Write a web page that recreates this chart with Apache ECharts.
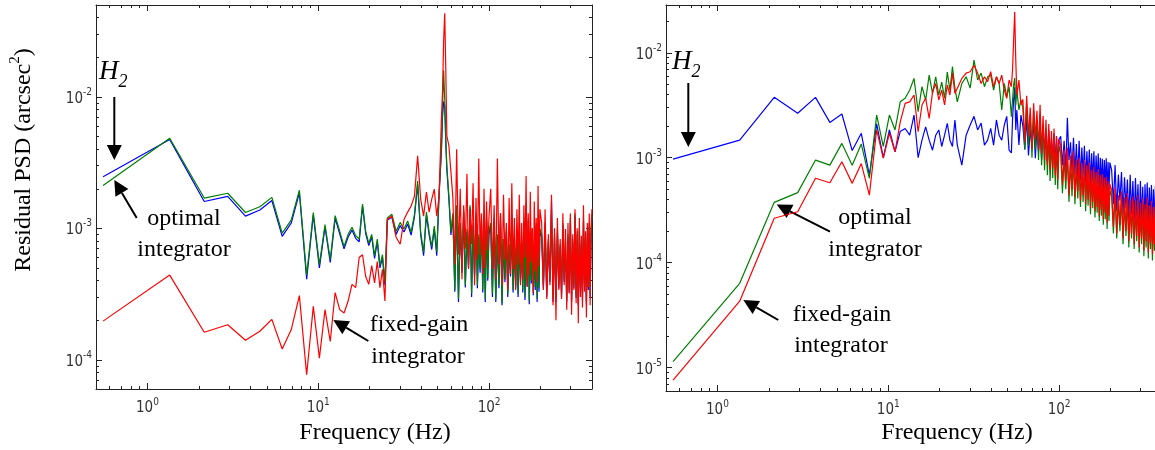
<!DOCTYPE html>
<html>
<head>
<meta charset="utf-8">
<script src="https://cdn.jsdelivr.net/npm/echarts@6/dist/echarts.min.js"></script>
<style>
html,body{margin:0;padding:0;background:#fff;overflow:hidden;}
#chart{width:1155px;height:450px;}
</style>
</head>
<body>
<div id="chart"></div>
<script>
// Frequency grid (Hz), shared by both panels
const freq = [0.55,1.35,2.15,2.95,3.75,4.55,5.35,6.15,6.95,7.75,
 8.55,9.35,10.15,10.95,11.75,12.55,13.35,14.15,14.95,15.75,
 16.55,17.35,18.15,18.95,19.75,20.55,21.35,22.15,22.95,23.75,
 24.55,25.35,
 26.95,28.55,30.15,31.75,33.35,34.95,36.55,38.15,
 39.75,41.35,42.95,44.55,46.15,47.75,49.35,50.95,52.55,53.35,
 54.15,54.95,55.75,56.55,58.15,59.75,
 61.35,62.95,64.55,66.15,67.75,69.35,70.95,72.55,74.15,75.75,
 77.35,78.95,80.55,82.15,83.75,85.35,86.95,88.55,90.15,91.75,
 93.35,94.95,96.55,98.15,99.75,
 102.15,104.55,106.95,109.35,111.75,114.15,116.55,118.95,121.35,123.75,
 126.15,128.55,130.95,133.35,135.75,138.15,140.55,142.95,145.35,147.75,
 150.15,152.55,154.95,157.35,159.75,162.15,164.55,166.95,169.35,171.75,
 174.15,176.55,178.95,181.35,183.75,186.15,188.55,190.95,193.35,195.75,
 198.15,
 202.95,207.75,212.55,217.35,222.15,226.95,231.75,236.55,241.35,246.15,
 250.95,255.75,260.55,265.35,270.15,274.95,279.75,284.55,289.35,294.15,
 298.95,303.75,308.55,313.35,318.15,322.95,327.75,332.55,337.35,342.15,
 346.95,351.75,356.55,361.35,366.15,370.95,375.75,380.55,385.35,390.15,
 394.95,399.75];

// Left panel: residual PSD (arcsec^2)
const blueL = [2.47e-3,4.75e-3,1.60e-3,1.75e-3,1.24e-3,1.38e-3,1.63e-3,8.7e-4,1.10e-3,1.86e-3,4.1e-4,1.26e-3,5.0e-4,1.02e-3,5.5e-4,1.19e-3,9.1e-4,7.0e-4,8.6e-4,9.7e-4,8.4e-4,7.9e-4,1.47e-3,9.1e-4,7.4e-4,8.6e-4,5.9e-4,7.9e-4,5.0e-4,6.0e-4,3.7e-4,1.15e-3,
 1.22e-3,9.0e-4,1.05e-3,9.4e-4,1.08e-3,8.9e-4,1.22e-3,2.15e-3,8.9e-4,6.2e-4,1.26e-3,8.9e-4,6.9e-4,9.9e-4,6.2e-4,1.8e-3,3.8e-3,7.0e-3,9.2e-3,8.5e-3,4.5e-3,2.8e-3,1.66e-3,8.9e-4,
 1.25e-3,3.3e-4,1.45e-3,2.75e-4,1.05e-3,4.6e-4,1.33e-3,3.55e-4,9.4e-4,5.0e-4,1.45e-3,3.0e-4,1.05e-3,4.3e-4,1.24e-3,3.5e-4,8.6e-4,4.6e-4,1.14e-3,3.25e-4,9.5e-4,2.75e-4,1.14e-3,4.0e-4,9.0e-4,
 1.05e-3,3.0e-4,1.14e-3,2.75e-4,8.6e-4,3.5e-4,1.24e-3,2.6e-4,7.9e-4,3.9e-4,9.4e-4,3.0e-4,7.2e-4,4.3e-4,1.05e-3,3.25e-4,7.9e-4,3.5e-4,9.4e-4,3.0e-4,8.6e-4,3.9e-4,7.9e-4,3.25e-4,1.05e-3,2.85e-4,9.0e-4,3.6e-4,1.14e-3,2.65e-4,8.2e-4,3.8e-4,9.5e-4,3.1e-4,7.5e-4,3.4e-4,1.05e-3,2.75e-4,8.7e-4,3.3e-4,9.5e-4,
 8.6e-4,3.5e-4,1.05e-3,3.0e-4,7.9e-4,3.9e-4,1.6e-3,2.75e-4,8.6e-4,2.75e-4,9.4e-4,3.5e-4,7.2e-4,3.0e-4,1.05e-3,3.9e-4,7.9e-4,2.75e-4,8.6e-4,3.25e-4,1.14e-3,2.75e-4,7.9e-4,3.5e-4,1.24e-3,2.95e-4,9.0e-4,2.6e-4,9.5e-4,3.3e-4,7.6e-4,2.85e-4,1.14e-3,3.7e-4,8.3e-4,2.65e-4,9.2e-4,3.4e-4,1.05e-3,3.0e-4,8.6e-4,1.2e-3];
const greenL = [2.12e-3,4.85e-3,1.70e-3,1.85e-3,1.32e-3,1.46e-3,1.72e-3,9.2e-4,1.16e-3,1.95e-3,4.4e-4,1.32e-3,5.3e-4,1.07e-3,5.8e-4,1.25e-3,9.5e-4,7.3e-4,9.0e-4,1.02e-3,8.8e-4,8.3e-4,1.53e-3,9.5e-4,7.7e-4,9.0e-4,6.2e-4,8.3e-4,5.2e-4,6.3e-4,3.9e-4,1.2e-3,
 1.28e-3,9.5e-4,1.11e-3,9.9e-4,1.14e-3,9.35e-4,1.28e-3,2.29e-3,9.35e-4,6.6e-4,1.33e-3,9.35e-4,7.3e-4,1.04e-3,6.6e-4,1.89e-3,4.03e-3,8.1e-3,1.59e-2,9.7e-3,4.8e-3,2.98e-3,1.76e-3,9.35e-4,
 1.3e-3,3.4e-4,1.5e-3,2.9e-4,1.1e-3,4.9e-4,1.4e-3,3.7e-4,9.9e-4,5.3e-4,1.5e-3,3.2e-4,1.1e-3,4.5e-4,1.3e-3,3.7e-4,9.0e-4,4.9e-4,1.2e-3,3.4e-4,1.0e-3,2.9e-4,1.2e-3,4.2e-4,9.5e-4,
 1.1e-3,3.2e-4,1.2e-3,2.9e-4,9.0e-4,3.7e-4,1.3e-3,2.7e-4,8.3e-4,4.1e-4,9.9e-4,3.2e-4,7.6e-4,4.5e-4,1.1e-3,3.4e-4,8.3e-4,3.7e-4,9.9e-4,3.2e-4,9.0e-4,4.1e-4,8.3e-4,3.4e-4,1.1e-3,3.0e-4,9.4e-4,3.8e-4,1.2e-3,2.8e-4,8.6e-4,4.0e-4,1.0e-3,3.3e-4,7.9e-4,3.6e-4,1.1e-3,2.9e-4,9.2e-4,3.5e-4,1.0e-3,
 9.0e-4,3.7e-4,1.1e-3,3.2e-4,8.3e-4,4.1e-4,1.4e-3,2.9e-4,9.0e-4,2.9e-4,9.9e-4,3.7e-4,7.6e-4,3.2e-4,1.1e-3,4.1e-4,8.3e-4,2.9e-4,9.0e-4,3.4e-4,1.2e-3,2.9e-4,8.3e-4,3.7e-4,1.3e-3,3.1e-4,9.5e-4,2.7e-4,1.0e-3,3.5e-4,8.0e-4,3.0e-4,1.2e-3,3.9e-4,8.7e-4,2.8e-4,9.7e-4,3.6e-4,1.1e-3,3.2e-4,9.0e-4,1.25e-3];
const redL = [1.97e-4,4.41e-4,1.62e-4,1.85e-4,1.41e-4,1.65e-4,2.03e-4,1.21e-4,1.70e-4,3.08e-4,7.7e-5,2.55e-4,1.03e-4,2.41e-4,1.38e-4,3.25e-4,2.41e-4,2.27e-4,2.8e-4,3.75e-4,3.54e-4,6.0e-4,6.3e-4,4.3e-4,3.75e-4,5.2e-4,3.85e-4,5.6e-4,3.54e-4,4.87e-4,2.8e-4,1.17e-3,
 1.24e-3,8.55e-4,7.57e-4,1.17e-3,1.33e-3,1.48e-3,1.76e-3,3.56e-3,1.67e-3,1.24e-3,1.89e-3,1.33e-3,1.67e-3,1.99e-3,1.24e-3,1.76e-3,6.8e-3,1.10e-2,2.65e-2,4.33e-2,1.64e-2,5.06e-3,4.25e-3,2.69e-3,
 1.7e-3,5.3e-4,4.0e-3,6.3e-4,2.0e-3,4.1e-4,1.5e-3,7.0e-4,2.6e-3,4.9e-4,1.4e-3,7.6e-4,2.2e-3,3.7e-4,1.7e-3,5.8e-4,3.4e-3,6.3e-4,1.3e-3,4.5e-4,2.0e-3,5.0e-4,1.6e-3,6.8e-4,1.2e-3,
 2.0e-3,4.9e-4,1.5e-3,4.1e-4,3.4e-3,5.3e-4,1.3e-3,3.7e-4,1.8e-3,5.8e-4,1.1e-3,3.4e-4,1.7e-3,4.5e-4,2.2e-3,4.9e-4,1.2e-3,3.4e-4,1.4e-3,5.3e-4,1.8e-3,3.7e-4,1.1e-3,4.1e-4,1.5e-3,6.0e-4,2.5e-3,3.6e-4,1.3e-3,4.4e-4,1.9e-3,5.5e-4,1.0e-3,3.2e-4,1.6e-3,4.7e-4,1.2e-3,3.9e-4,2.1e-3,5.1e-4,1.4e-3,
 1.1e-3,3.4e-4,1.4e-3,2.9e-4,9.0e-4,3.7e-4,1.8e-3,2.6e-4,1.0e-3,2.0e-4,1.2e-3,3.4e-4,8.3e-4,2.9e-4,1.3e-3,3.7e-4,9.9e-4,2.4e-4,1.1e-3,3.2e-4,1.3e-3,2.2e-4,9.0e-4,3.4e-4,1.4e-3,2.7e-4,1.0e-3,1.9e-4,1.2e-3,3.0e-4,8.8e-4,2.5e-4,1.5e-3,3.3e-4,9.5e-4,2.1e-4,1.1e-3,3.6e-4,1.3e-3,2.6e-4,1.0e-3,1.4e-3];

// Right panel
const blueR = [9.7e-4,1.47e-3,3.76e-3,2.65e-3,3.76e-3,2.17e-3,2.61e-3,1.17e-3,1.71e-3,6.8e-4,2.1e-3,1.0e-3,1.84e-3,1.14e-3,1.78e-3,1.9e-3,1.64e-3,2.55e-3,1.0e-3,1.47e-3,1.97e-3,1.47e-3,1.18e-3,1.64e-3,1.84e-3,1.28e-3,1.64e-3,2.13e-3,1.47e-3,1.28e-3,2.29e-3,1.32e-3,
 8.5e-4,1.64e-3,2.05e-3,2.48e-3,1.84e-3,2.14e-3,1.32e-3,1.47e-3,1.9e-3,1.32e-3,2.29e-3,1.64e-3,1.47e-3,2.05e-3,2.48e-3,1.18e-3,1.11e-3,2.29e-3,3.55e-3,4.7e-3,1.84e-3,2.85e-3,1.32e-3,2.55e-3,
 2.0e-3,1.2e-3,2.4e-3,1.05e-3,1.85e-3,1.3e-3,2.2e-3,9.9e-4,1.9e-3,1.15e-3,1.75e-3,9.5e-4,2.0e-3,1.2e-3,1.65e-3,9.1e-4,1.85e-3,1.0e-3,1.55e-3,9.5e-4,1.7e-3,8.8e-4,1.6e-3,8.5e-4,1.5e-3,
 1.6e-3,8.5e-4,1.45e-3,7.6e-4,2.4e-3,9.5e-4,1.4e-3,7.6e-4,1.55e-3,7.0e-4,1.35e-3,6.6e-4,1.45e-3,6.1e-4,1.25e-3,6.8e-4,1.3e-3,5.8e-4,1.15e-3,6.3e-4,1.2e-3,5.5e-4,1.1e-3,5.9e-4,1.15e-3,5.2e-4,1.05e-3,5.6e-4,1.1e-3,4.9e-4,1.0e-3,5.3e-4,9.8e-4,4.7e-4,9.5e-4,5.1e-4,9.9e-4,4.5e-4,9.1e-4,4.9e-4,9.0e-4,
 7.6e-4,3.6e-4,8.5e-4,3.1e-4,6.9e-4,3.9e-4,7.3e-4,2.9e-4,6.5e-4,3.3e-4,6.2e-4,2.6e-4,6.9e-4,2.9e-4,6.0e-4,2.5e-4,6.4e-4,2.8e-4,5.6e-4,2.3e-4,6.0e-4,2.6e-4,5.3e-4,2.0e-4,5.6e-4,2.4e-4,5.8e-4,2.2e-4,5.2e-4,2.5e-4,5.5e-4,2.1e-4,5.0e-4,2.3e-4,5.4e-4,1.9e-4,4.9e-4,2.2e-4,5.3e-4,2.0e-4,4.8e-4,5.1e-4];
const greenR = [1.14e-5,6.37e-5,3.76e-4,4.65e-4,9.5e-4,8.5e-4,1.37e-3,8.5e-4,1.35e-3,6.37e-4,2.55e-3,1.28e-3,2.55e-3,1.84e-3,3.41e-3,3.68e-3,4.41e-3,5.7e-3,2.75e-3,4.75e-3,3.55e-3,6.13e-3,4.10e-3,5.9e-3,3.96e-3,5.26e-3,3.7e-3,6.55e-3,4.41e-3,7.4e-3,4.6e-3,3.41e-3,
 5.1e-3,5.9e-3,4.6e-3,8.5e-3,5.5e-3,6.4e-3,4.75e-3,5.9e-3,6.13e-3,4.41e-3,5.9e-3,5.1e-3,2.85e-3,5.1e-3,3.8e-3,4.75e-3,2.46e-3,3.55e-3,4.92e-3,5.74e-3,3.18e-3,4.41e-3,2.85e-3,3.55e-3,
 3.0e-3,1.2e-3,3.3e-3,1.3e-3,2.6e-3,1.0e-3,2.8e-3,1.2e-3,2.4e-3,9.5e-4,2.6e-3,8.5e-4,2.1e-3,7.6e-4,1.9e-3,6.8e-4,1.7e-3,6.0e-4,1.5e-3,6.4e-4,1.6e-3,5.5e-4,1.4e-3,5.0e-4,1.3e-3,
 1.1e-3,4.6e-4,1.0e-3,5.0e-4,1.05e-3,3.8e-4,9.0e-4,4.3e-4,1.0e-3,3.6e-4,8.2e-4,4.1e-4,8.8e-4,3.4e-4,7.6e-4,3.8e-4,8.2e-4,3.1e-4,7.3e-4,3.5e-4,7.8e-4,2.9e-4,6.6e-4,3.3e-4,7.1e-4,2.7e-4,6.3e-4,3.0e-4,6.8e-4,2.5e-4,5.9e-4,2.8e-4,6.1e-4,2.3e-4,5.6e-4,2.6e-4,5.8e-4,2.1e-4,5.3e-4,2.5e-4,4.9e-4,
 4.3e-4,1.9e-4,4.6e-4,1.7e-4,3.9e-4,2.0e-4,4.2e-4,1.5e-4,3.7e-4,1.8e-4,4.0e-4,1.4e-4,3.5e-4,1.7e-4,3.8e-4,1.35e-4,3.4e-4,1.6e-4,3.9e-4,1.25e-4,3.3e-4,1.5e-4,3.6e-4,1.15e-4,3.2e-4,1.4e-4,3.7e-4,1.1e-4,3.1e-4,1.35e-4,3.4e-4,1.05e-4,3.0e-4,1.3e-4,3.5e-4,1.0e-4,2.9e-4,1.25e-4,3.3e-4,1.05e-4,3.1e-4,3.7e-4];
const redR = [7.6e-6,4.3e-5,2.65e-4,3.06e-4,6.37e-4,5.78e-4,9.16e-4,5.7e-4,8.8e-4,4.4e-4,1.84e-3,9.9e-4,1.71e-3,1.14e-3,2.2e-3,3.3e-3,3.4e-3,3.96e-3,1.77e-3,3.18e-3,3.68e-3,2.37e-3,4.2e-3,5.1e-3,3.55e-3,4.41e-3,3.18e-3,4.92e-3,3.96e-3,6.4e-3,4.1e-3,4.6e-3,
 5.7e-3,6.4e-3,6.6e-3,7.6e-3,6.4e-3,5.1e-3,5.9e-3,5.3e-3,6.6e-3,4.75e-3,5.9e-3,5.1e-3,6.13e-3,4.41e-3,3.68e-3,5.5e-3,4.75e-3,6.85e-3,1.32e-2,2.45e-2,8.5e-3,3.96e-3,5.5e-3,3.18e-3,
 3.6e-3,1.4e-3,3.9e-3,1.6e-3,3.0e-3,1.2e-3,3.3e-3,1.5e-3,2.8e-3,1.2e-3,3.2e-3,1.1e-3,2.5e-3,9.5e-4,2.3e-3,8.5e-4,2.1e-3,7.6e-4,1.8e-3,8.0e-4,1.9e-3,6.8e-4,1.6e-3,6.2e-4,1.5e-3,
 1.3e-3,5.5e-4,1.2e-3,6.0e-4,1.25e-3,4.4e-4,1.05e-3,5.0e-4,1.15e-3,4.2e-4,9.5e-4,4.8e-4,1.0e-3,3.9e-4,8.8e-4,4.4e-4,9.5e-4,3.6e-4,8.5e-4,4.0e-4,9.0e-4,3.3e-4,7.6e-4,3.8e-4,8.2e-4,3.1e-4,7.3e-4,3.4e-4,7.8e-4,2.8e-4,6.8e-4,3.2e-4,7.0e-4,2.6e-4,6.4e-4,3.0e-4,6.6e-4,2.4e-4,6.0e-4,2.8e-4,5.6e-4,
 4.9e-4,2.2e-4,5.2e-4,1.9e-4,4.4e-4,2.3e-4,4.8e-4,1.7e-4,4.2e-4,2.0e-4,4.6e-4,1.6e-4,4.0e-4,1.9e-4,4.3e-4,1.5e-4,3.9e-4,1.8e-4,4.4e-4,1.4e-4,3.7e-4,1.7e-4,4.1e-4,1.3e-4,3.6e-4,1.6e-4,4.2e-4,1.25e-4,3.5e-4,1.55e-4,3.9e-4,1.2e-4,3.4e-4,1.5e-4,4.0e-4,1.15e-4,3.3e-4,1.45e-4,3.8e-4,1.2e-4,3.5e-4,4.2e-4];

// Tick positions
const xMajor = [1, 10, 100];
const xMinor = [0.6,0.7,0.8,0.9,2,3,4,5,6,7,8,9,20,30,40,50,60,70,80,90,200,300,400];
const yMajorL = [1e-4, 1e-3, 1e-2];
const yMinorL = [7e-5,8e-5,9e-5,2e-4,3e-4,4e-4,5e-4,6e-4,7e-4,8e-4,9e-4,2e-3,3e-3,4e-3,5e-3,6e-3,7e-3,8e-3,9e-3,2e-2,3e-2,4e-2];
const yMajorR = [1e-5, 1e-4, 1e-3, 1e-2];
const yMinorR = [7e-6,8e-6,9e-6,2e-5,3e-5,4e-5,5e-5,6e-5,7e-5,8e-5,9e-5,2e-4,3e-4,4e-4,5e-4,6e-4,7e-4,8e-4,9e-4,2e-3,3e-3,4e-3,5e-3,6e-3,7e-3,8e-3,9e-3,2e-2];

const xRange = [0.5, 400];
const yRangeL = [6e-5, 5e-2];
const yRangeR = [6e-6, 2.85e-2];

const SANS = "'Liberation Sans Narrow', 'DejaVu Sans Condensed', 'Liberation Sans', Arial, sans-serif";
const SERIF = "'Liberation Serif', 'Times New Roman', serif";
const AX = '#222';

const lblRich = {
  b: {fontFamily: SANS, fontSize: 15, lineHeight: 19, verticalAlign: 'bottom', color: '#333'},
  s: {fontFamily: SANS, fontSize: 10, lineHeight: 11, verticalAlign: 'top', color: '#333'}
};
function fmt(v) {
  const e = Math.round(Math.log10(v));
  return '{b|10}{s|' + e + '}';
}

function mkAxis(dim, grid, pos, range, ticks, len, withLine, withLabels) {
  return {
    type: 'log', logBase: 10, gridIndex: grid, position: pos,
    min: range[0], max: range[1],
    axisLine: {show: withLine, onZero: false, lineStyle: {color: AX, width: 1}},
    axisTick: {show: true, inside: true, length: len, customValues: ticks, lineStyle: {color: AX, width: 1}},
    axisLabel: withLabels ? {show: true, customValues: ticks, margin: dim === 'x' ? 8 : 4,
      formatter: fmt, rich: lblRich, fontFamily: SANS, fontSize: 15, color: '#333'} : {show: false},
    splitLine: {show: false}, minorTick: {show: false}, minorSplitLine: {show: false},
    axisPointer: {show: false}, silent: true
  };
}

const xAxes = [], yAxes = [];
[[0, yRangeL, yMajorL, yMinorL], [1, yRangeR, yMajorR, yMinorR]].forEach(function (g) {
  const gi = g[0];
  xAxes.push(mkAxis('x', gi, 'bottom', xRange, xMajor, 6, true, true));
  xAxes.push(mkAxis('x', gi, 'bottom', xRange, xMinor, 3, false, false));
  xAxes.push(mkAxis('x', gi, 'top', xRange, xMajor, 6, true, false));
  xAxes.push(mkAxis('x', gi, 'top', xRange, xMinor, 3, false, false));
  yAxes.push(mkAxis('y', gi, 'left', g[1], g[2], 6, true, true));
  yAxes.push(mkAxis('y', gi, 'left', g[1], g[3], 3, false, false));
  yAxes.push(mkAxis('y', gi, 'right', g[1], g[2], 6, true, false));
  yAxes.push(mkAxis('y', gi, 'right', g[1], g[3], 3, false, false));
});

function pairs(vals) { return freq.map(function (f, i) { return [f, vals[i]]; }); }
function line(name, vals, color, axisIdx) {
  return {
    name: name, type: 'line', data: pairs(vals), xAxisIndex: axisIdx, yAxisIndex: axisIdx,
    showSymbol: false, symbol: 'none', clip: true, silent: true,
    lineStyle: {color: color, width: 1.2}, itemStyle: {color: color}
  };
}

function arrow(x1, y1, x2, y2) {
  const hl = 15, hw = 15;
  const dx = x2 - x1, dy = y2 - y1, L = Math.sqrt(dx * dx + dy * dy);
  const ux = dx / L, uy = dy / L;
  const bx = x2 - ux * hl, by = y2 - uy * hl;
  const nx = -uy * hw / 2, ny = ux * hw / 2;
  return [
    {type: 'line', shape: {x1: x1, y1: y1, x2: bx, y2: by}, style: {stroke: '#000', lineWidth: 2}, silent: true},
    {type: 'polygon', shape: {points: [[x2, y2], [bx + nx, by + ny], [bx - nx, by - ny]]}, style: {fill: '#000'}, silent: true}
  ];
}
function txt(s, x, y, size) {
  return {type: 'text', x: x, y: y, silent: true,
    style: {text: s, fontFamily: SERIF, fontSize: size || 24, fill: '#000', align: 'center', verticalAlign: 'middle'}};
}
function h2(x, y) {
  return {type: 'text', x: x, y: y, silent: true,
    style: {text: '{h|H}{s|2}', align: 'left', verticalAlign: 'top', fill: '#000',
      rich: {
        h: {fontFamily: SERIF, fontStyle: 'italic', fontSize: 27, lineHeight: 28, verticalAlign: 'top', fill: '#000'},
        s: {fontFamily: SERIF, fontStyle: 'italic', fontSize: 18, lineHeight: 33, verticalAlign: 'bottom', fill: '#000'}
      }}};
}

const graphics = [].concat(
  [h2(99, 58), txt('optimal', 184, 219), txt('integrator', 184, 250),
   txt('fixed-gain', 419, 325), txt('integrator', 418, 357),
   h2(672, 48), txt('optimal', 875, 218), txt('integrator', 875, 250),
   txt('fixed-gain', 842, 315), txt('integrator', 841, 346),
   txt('Frequency (Hz)', 375, 433), txt('Frequency (Hz)', 957, 433),
   {type: 'text', x: 22, y: 160, rotation: Math.PI / 2, silent: true,
    style: {text: '{a|Residual PSD (arcsec}{s|2}{a|)}', align: 'center', verticalAlign: 'middle', fill: '#000',
      rich: {a: {fontFamily: SERIF, fontSize: 24, lineHeight: 28, verticalAlign: 'bottom', fill: '#000'},
             s: {fontFamily: SERIF, fontSize: 15, lineHeight: 15, verticalAlign: 'top', fill: '#000'}}}}],
  arrow(114.3, 97, 114.3, 160),
  arrow(136.7, 218, 114.3, 180),
  arrow(368.3, 341, 333.3, 320),
  arrow(688.3, 83, 688.3, 147),
  arrow(830, 231.7, 776.7, 204.5),
  arrow(778.3, 320, 743.3, 300)
);

const chart = echarts.init(document.getElementById('chart'), null, {renderer: 'canvas'});
chart.setOption({
  animation: false,
  backgroundColor: '#fff',
  grid: [
    {left: 96, top: 5, width: 496, height: 384, outerBoundsMode: 'none', containLabel: false},
    {left: 666, top: 5, width: 496, height: 386, outerBoundsMode: 'none', containLabel: false}
  ],
  xAxis: xAxes,
  yAxis: yAxes,
  series: [
    line('H2 (left)', blueL, '#0000ff', 0),
    line('optimal integrator (left)', greenL, '#008000', 0),
    line('fixed-gain integrator (left)', redL, '#ff0000', 0),
    line('H2 (right)', blueR, '#0000ff', 4),
    line('optimal integrator (right)', greenR, '#008000', 4),
    line('fixed-gain integrator (right)', redR, '#ff0000', 4)
  ],
  graphic: graphics
});
</script>
</body>
</html>
